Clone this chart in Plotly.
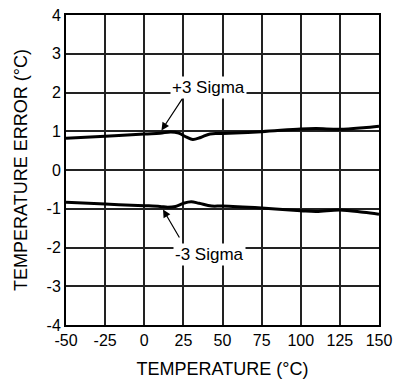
import plotly.graph_objects as go

# temperature (deg C) and the +/-3 sigma error bounds
temp_hi = [-50, -25, 0, 10, 17, 22, 27, 31, 36, 42, 50, 75, 100, 110, 125, 140, 150]
err_hi = [0.82, 0.87, 0.93, 0.95, 0.98, 0.95, 0.85, 0.79, 0.84, 0.93, 0.94, 0.99, 1.06, 1.07, 1.05, 1.09, 1.13]

temp_lo = [-50, -25, 0, 10, 15, 20, 25, 30, 35, 43, 50, 75, 100, 110, 125, 140, 150]
err_lo = [-0.83, -0.88, -0.92, -0.94, -0.96, -0.94, -0.86, -0.82, -0.86, -0.93, -0.93, -0.98, -1.05, -1.07, -1.03, -1.09, -1.14]

x_ticks = [-50, -25, 0, 25, 50, 75, 100, 125, 150]
x_labels = ["-50", "-25", "0", "25", "50", "75", "100", "125", "150"]
y_ticks = [-4, -3, -2, -1, 0, 1, 2, 3, 4]
y_labels = ["-4", "-3", "-2", "-1", "0", "1", "2", "3", "4"]

fig = go.Figure()
fig.add_trace(go.Scatter(x=temp_hi, y=err_hi, mode="lines",
                         line=dict(color="black", width=3, shape="spline"),
                         showlegend=False))
fig.add_trace(go.Scatter(x=temp_lo, y=err_lo, mode="lines",
                         line=dict(color="black", width=3, shape="spline"),
                         showlegend=False))

# labels with leader arrows
fig.add_annotation(x=11, y=1.02, ax=25, ay=1.88, axref="x", ayref="y",
                   text="", showarrow=True, arrowhead=2, arrowsize=1.3,
                   arrowwidth=1.2, arrowcolor="black")
fig.add_annotation(x=41, y=2.12, text="+3 Sigma", showarrow=False,
                   bgcolor="white", font=dict(size=17, color="black"))
fig.add_annotation(x=12, y=-1.02, ax=23, ay=-1.78, axref="x", ayref="y",
                   text="", showarrow=True, arrowhead=2, arrowsize=1.3,
                   arrowwidth=1.2, arrowcolor="black")
fig.add_annotation(x=42, y=-2.17, text="-3 Sigma", showarrow=False,
                   bgcolor="white", font=dict(size=17, color="black"))

axis_style = dict(showgrid=True, gridcolor="#222", gridwidth=1.5,
                  showline=True, linecolor="black", linewidth=2, mirror=True,
                  zeroline=False, ticks="", automargin=False,
                  tickfont=dict(size=16, color="black"))

fig.update_xaxes(range=[-50, 150], tickvals=x_ticks, ticktext=x_labels,
                 title=dict(text="TEMPERATURE (°C)", font=dict(size=18, color="black"), standoff=14),
                 **axis_style)
fig.update_yaxes(range=[-4, 4], tickvals=y_ticks, ticktext=y_labels,
                 title=dict(text="TEMPERATURE ERROR (°C)", font=dict(size=18, color="black"), standoff=14),
                 **axis_style)

fig.update_layout(width=395, height=381,
                  margin=dict(l=66, r=16, t=15, b=56),
                  paper_bgcolor="white", plot_bgcolor="white",
                  font=dict(family="Liberation Sans, Arial, sans-serif"))

# drop the default 8px page margin so the figure fills the window exactly
fig.write_html("out.html", config={"displayModeBar": False},
               post_script="document.body.style.margin='0';document.body.style.overflow='hidden';")
